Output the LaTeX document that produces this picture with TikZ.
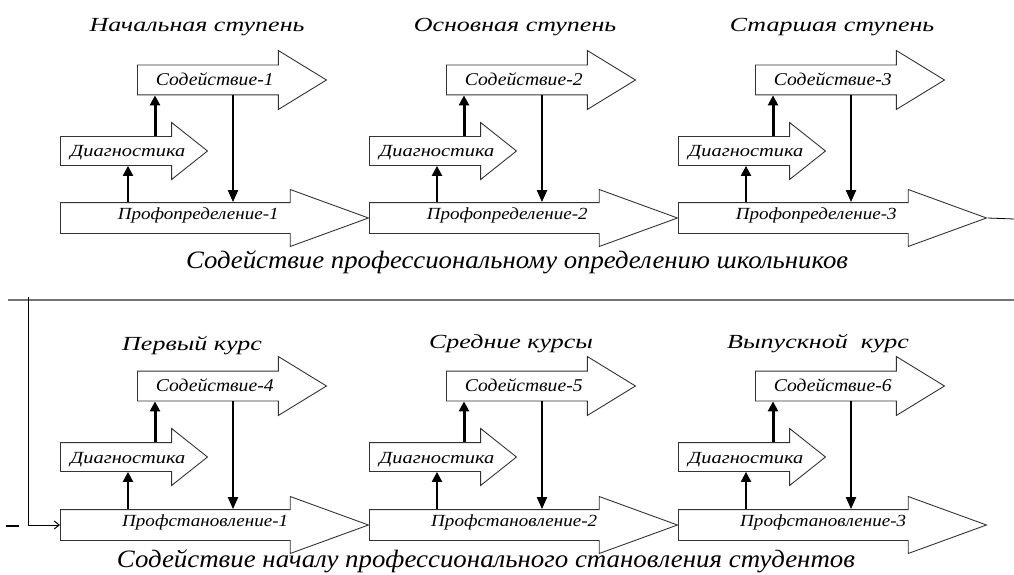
\documentclass[tikz,border=0pt]{standalone}
\usepackage{fontspec}
\setmainfont{Liberation Serif}
\usetikzlibrary{arrows.meta,shapes.arrows}

\newcommand{\hstr}[2]{\scalebox{#1}[1]{#2}}
\newcommand{\inlbl}[3]{\makebox[0pt]{\hspace*{#1}\scalebox{#2}[1]{#3}}}

\tikzset{
  blk/.style={single arrow, draw=black!80, line width=0.9pt, fill=white,
    inner xsep=0pt, inner ysep=0pt, single arrow head indent=0pt},
  sod/.style={blk, minimum height=189pt, single arrow head extend=14.5pt,
    single arrow tip angle=63, text height=20pt, text depth=9pt,
    font=\itshape\fontsize{18}{18}\selectfont},
  diag/.style={blk, minimum height=147pt, single arrow head extend=14pt,
    single arrow tip angle=77, text height=20pt, text depth=8pt,
    font=\itshape\fontsize{17}{17}\selectfont},
  prof/.style={blk, minimum height=308pt, single arrow head extend=13pt,
    single arrow tip angle=40, text height=16pt, text depth=14pt,
    font=\itshape\fontsize{17}{17}\selectfont},
  ttl/.style={font=\itshape\fontsize{20}{24}\selectfont},
  capt/.style={font=\itshape\fontsize{25}{30}\selectfont},
  upth/.style={line width=3pt, -{Triangle[length=10pt,width=10pt]}},
  upthin/.style={line width=2.2pt, -{Triangle[length=10pt,width=10pt]}},
  dn/.style={line width=2pt, -{Triangle[length=12pt,width=10pt]}},
}

\begin{document}
\begin{tikzpicture}[x=1pt,y=-1pt]
        \useasboundingbox (0,0) rectangle (1014,575);

        % school
        \node[ttl] (t1) at (197,27) {\hstr{1.3}{Начальная ступень}};
        \node[sod, anchor=tail] (s1) at (137,80) {\inlbl{-10pt}{1.09}{Содействие-1}};
        \node[diag, anchor=tail] (d1) at (60,151) {\inlbl{6pt}{1.2}{Диагностика}};
        \node[prof, anchor=tail] (p1) at (60,218) {\inlbl{10pt}{1.12}{Профопределение-1}};
        \draw[upth] ([xshift=95pt]d1.tail |- d1.north) -- ([xshift=95pt]d1.tail |- s1.south);
        \draw[upthin] ([xshift=68pt]p1.tail |- p1.north) -- ([xshift=68pt]p1.tail |- d1.south);
        \draw[dn] ([xshift=96pt]s1.tail |- s1.south) -- ([xshift=96pt]s1.tail |- p1.north);

        \node[ttl] (t2) at (515,27) {\hstr{1.3}{Основная ступень}};
        \node[sod, anchor=tail] (s2) at (446,80) {\inlbl{-10pt}{1.09}{Содействие-2}};
        \node[diag, anchor=tail] (d2) at (369,151) {\inlbl{6pt}{1.2}{Диагностика}};
        \node[prof, anchor=tail] (p2) at (369,218) {\inlbl{10pt}{1.12}{Профопределение-2}};
        \draw[upth] ([xshift=95pt]d2.tail |- d2.north) -- ([xshift=95pt]d2.tail |- s2.south);
        \draw[upthin] ([xshift=68pt]p2.tail |- p2.north) -- ([xshift=68pt]p2.tail |- d2.south);
        \draw[dn] ([xshift=96pt]s2.tail |- s2.south) -- ([xshift=96pt]s2.tail |- p2.north);

        \node[ttl] (t3) at (832,27) {\hstr{1.3}{Старшая ступень}};
        \node[sod, anchor=tail] (s3) at (755,80) {\inlbl{-10pt}{1.09}{Содействие-3}};
        \node[diag, anchor=tail] (d3) at (678,151) {\inlbl{6pt}{1.2}{Диагностика}};
        \node[prof, anchor=tail] (p3) at (678,218) {\inlbl{10pt}{1.12}{Профопределение-3}};
        \draw[upth] ([xshift=95pt]d3.tail |- d3.north) -- ([xshift=95pt]d3.tail |- s3.south);
        \draw[upthin] ([xshift=68pt]p3.tail |- p3.north) -- ([xshift=68pt]p3.tail |- d3.south);
        \draw[dn] ([xshift=96pt]s3.tail |- s3.south) -- ([xshift=96pt]s3.tail |- p3.north);

        \coordinate (exitR) at (1014,219);
        \draw[line width=0.8pt] (p3.tip) -- (exitR);
        \node[capt] (c1) at (517,262) {\hstr{1.07}{Содействие профессиональному определению школьников}};

        % separator and return line
        \coordinate (sepL) at (8,300);
        \coordinate (sepR) at (1014,300);
        \draw[black!55, line width=1.5pt] (sepL) -- (sepR);
        \coordinate (loopT) at (28,297);
        \coordinate (dashA) at (6,526);
        \coordinate (dashB) at (19,526);
        \draw[line width=1.5pt] (dashA) -- (dashB);

        % students
        \node[ttl] (t4) at (192,346) {\hstr{1.3}{Первый курс}};
        \node[sod, anchor=tail] (s4) at (137,386) {\inlbl{-10pt}{1.09}{Содействие-4}};
        \node[diag, anchor=tail] (d4) at (60,457) {\inlbl{6pt}{1.2}{Диагностика}};
        \node[prof, anchor=tail] (p4) at (60,525) {\inlbl{24pt}{1.12}{Профстановление-1}};
        \draw[upth] ([xshift=95pt]d4.tail |- d4.north) -- ([xshift=95pt]d4.tail |- s4.south);
        \draw[upthin] ([xshift=68pt]p4.tail |- p4.north) -- ([xshift=68pt]p4.tail |- d4.south);
        \draw[dn] ([xshift=96pt]s4.tail |- s4.south) -- ([xshift=96pt]s4.tail |- p4.north);
        \draw[line width=1pt, -{Straight Barb[length=5pt,width=8pt]}] (loopT) |- (p4.tail);

        \node[ttl] (t5) at (511,344) {\hstr{1.3}{Средние курсы}};
        \node[sod, anchor=tail] (s5) at (446,386) {\inlbl{-10pt}{1.09}{Содействие-5}};
        \node[diag, anchor=tail] (d5) at (369,457) {\inlbl{6pt}{1.2}{Диагностика}};
        \node[prof, anchor=tail] (p5) at (369,525) {\inlbl{24pt}{1.12}{Профстановление-2}};
        \draw[upth] ([xshift=95pt]d5.tail |- d5.north) -- ([xshift=95pt]d5.tail |- s5.south);
        \draw[upthin] ([xshift=68pt]p5.tail |- p5.north) -- ([xshift=68pt]p5.tail |- d5.south);
        \draw[dn] ([xshift=96pt]s5.tail |- s5.south) -- ([xshift=96pt]s5.tail |- p5.north);

        \node[ttl] (t6) at (818,344) {\hstr{1.3}{Выпускной~~курс}};
        \node[sod, anchor=tail] (s6) at (755,386) {\inlbl{-10pt}{1.09}{Содействие-6}};
        \node[diag, anchor=tail] (d6) at (678,457) {\inlbl{6pt}{1.2}{Диагностика}};
        \node[prof, anchor=tail] (p6) at (678,525) {\inlbl{24pt}{1.12}{Профстановление-3}};
        \draw[upth] ([xshift=95pt]d6.tail |- d6.north) -- ([xshift=95pt]d6.tail |- s6.south);
        \draw[upthin] ([xshift=68pt]p6.tail |- p6.north) -- ([xshift=68pt]p6.tail |- d6.south);
        \draw[dn] ([xshift=96pt]s6.tail |- s6.south) -- ([xshift=96pt]s6.tail |- p6.north);

        \node[capt] (c2) at (486,561) {\hstr{1.075}{Содействие началу профессионального становления студентов}};
\end{tikzpicture}
\end{document}
